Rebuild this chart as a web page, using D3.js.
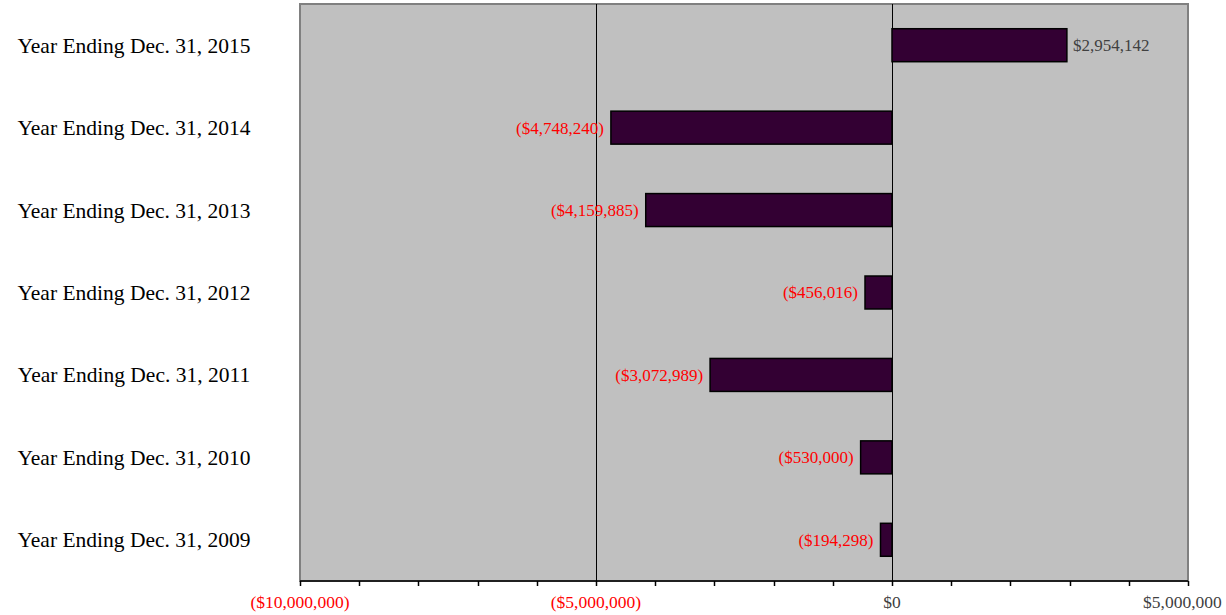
<!DOCTYPE html>
<html><head><meta charset="utf-8">
<script src="https://cdn.jsdelivr.net/npm/d3@7"></script>
<style>body{margin:0;background:#fff}svg{display:block}</style>
</head><body>
<svg id="c" width="1226" height="615"></svg>
<script>
const categories = ["Year Ending Dec. 31, 2015","Year Ending Dec. 31, 2014","Year Ending Dec. 31, 2013","Year Ending Dec. 31, 2012","Year Ending Dec. 31, 2011","Year Ending Dec. 31, 2010","Year Ending Dec. 31, 2009"];
const values = [2954142, -4748240, -4159885, -456016, -3072989, -530000, -194298];
const majorTicks = [-10000000, -5000000, 0, 5000000];
const minorTicks = [-9000000,-8000000,-7000000,-6000000,-4000000,-3000000,-2000000,-1000000,1000000,2000000,3000000,4000000];

const svg = d3.select("#c");
const W = 1226;
const L = 300, R = 1188, T = 4, B = 581;
const x = d3.scaleLinear().domain([-10000000, 5000000]).range([L, R]);
const y = d3.scaleBand().domain(categories).range([T, B]).paddingInner(0.6).paddingOuter(0.3);
const font = "'Liberation Serif','Times New Roman',serif";
const fmt = v => v < 0 ? "($" + d3.format(",")(-v) + ")" : "$" + d3.format(",")(v);
const col = v => v < 0 ? "#ff0000" : "#404040";
const px = v => Math.round(x(v)) + 0.5;

svg.append("rect").attr("x", L).attr("y", T).attr("width", R - L).attr("height", B - T)
  .attr("fill", "#c0c0c0").attr("stroke", "#808080").attr("stroke-width", 2);

// gridlines
svg.append("g").selectAll("line").data(majorTicks.filter(d => d > -10000000 && d < 5000000)).join("line")
  .attr("x1", px).attr("x2", px).attr("y1", T).attr("y2", B)
  .attr("stroke", "#000").attr("stroke-width", 1);

// bars
svg.append("g").selectAll("rect").data(values).join("rect")
  .attr("x", d => x(Math.min(0, d)))
  .attr("width", d => Math.abs(x(d) - x(0)))
  .attr("y", (d, i) => y(categories[i]))
  .attr("height", y.bandwidth())
  .attr("fill", "#330033").attr("stroke", "#000").attr("stroke-width", 1.5);

// value labels
svg.append("g").selectAll("text").data(values).join("text")
  .attr("x", d => d < 0 ? x(d) - 7 : x(d) + 6)
  .attr("y", (d, i) => y(categories[i]) + y.bandwidth() / 2)
  .attr("dy", "0.35em")
  .attr("text-anchor", d => d < 0 ? "end" : "start")
  .attr("fill", col).attr("font-family", font).attr("font-size", 17)
  .text(fmt);

// category labels
svg.append("g").selectAll("text").data(categories).join("text")
  .attr("x", 134).attr("y", d => y(d) + y.bandwidth() / 2)
  .attr("dy", "0.35em").attr("text-anchor", "middle")
  .attr("fill", "#000").attr("font-family", font).attr("font-size", 21.5)
  .text(d => d);

// x axis
const ax = svg.append("g");
ax.append("line").attr("x1", L).attr("x2", R).attr("y1", B).attr("y2", B).attr("stroke", "#000").attr("stroke-width", 1.5);
ax.selectAll("line.t").data(majorTicks.concat(minorTicks)).join("line").attr("class", "t")
  .attr("x1", px).attr("x2", px).attr("y1", B).attr("y2", B + 5)
  .attr("stroke", "#000").attr("stroke-width", 1.5);
ax.selectAll("text").data(majorTicks).join("text")
  .attr("x", d => x(d)).attr("y", 602).attr("dy", "0.35em").attr("text-anchor", "middle")
  .attr("fill", col).attr("font-family", font).attr("font-size", 17.5)
  .text(fmt)
  .each(function () {
    const bb = this.getBBox();
    if (bb.x + bb.width > W - 4) d3.select(this).attr("x", +d3.select(this).attr("x") - (bb.x + bb.width - (W - 4)));
  });
</script>
</body></html>
